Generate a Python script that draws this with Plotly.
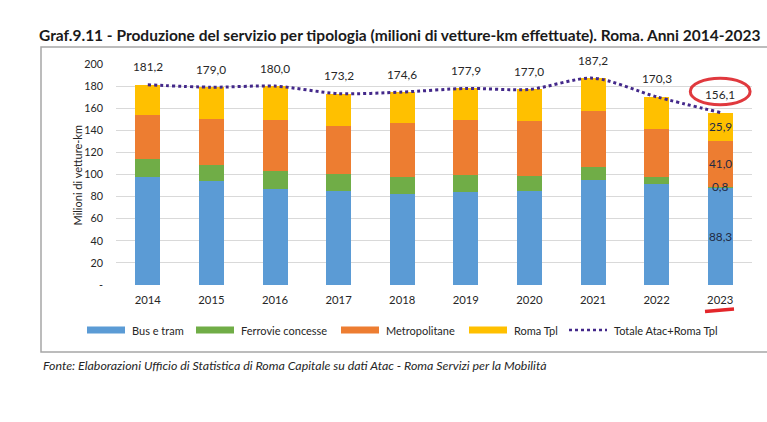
import plotly.graph_objects as go

years = ["2014", "2015", "2016", "2017", "2018", "2019", "2020", "2021", "2022", "2023"]
bus_tram = [98.0, 94.1, 87.2, 84.8, 82.6, 84.5, 85.1, 94.7, 91.4, 88.3]
ferrovie = [16.0, 14.2, 16.0, 15.4, 15.5, 15.0, 13.5, 12.1, 6.0, 0.8]
metropolitane = [39.5, 42.0, 45.8, 43.7, 48.9, 49.8, 49.5, 50.7, 43.8, 41.0]
roma_tpl = [27.7, 28.7, 31.0, 29.3, 27.6, 28.6, 28.9, 29.7, 29.1, 25.9]
totale = [181.2, 179.0, 180.0, 173.2, 174.6, 177.9, 177.0, 187.2, 170.3, 156.1]
y_ticks = [0, 20, 40, 60, 80, 100, 120, 140, 160, 180, 200]
y_ticktext = ["-"] + [str(v) for v in y_ticks[1:]]

C_BUS = "#5B9BD5"
C_FER = "#70AD47"
C_MET = "#ED7D31"
C_TPL = "#FFC000"
C_TOT = "#43288A"
FONT = "Lato"
TXT = "#262626"

W, H = 767, 422
L, R, T, B = 116, 752, 64, 285
YMAX = 200.0
N = len(years)


def xp(px):
    return (px - L) / (R - L)


def yp(py):
    return (B - py) / (B - T)


def fmt(v):
    return f"{v:.1f}".replace(".", ",")


fig = go.Figure()
for name, vals, col in [("Bus e tram", bus_tram, C_BUS), ("Ferrovie concesse", ferrovie, C_FER),
                        ("Metropolitane", metropolitane, C_MET), ("Roma Tpl", roma_tpl, C_TPL)]:
    fig.add_trace(go.Bar(x=years, y=vals, name=name, marker=dict(color=col, line=dict(width=0)),
                         showlegend=False, hoverinfo="y+name"))

fig.add_trace(go.Scatter(x=years, y=totale, name="Totale Atac+Roma Tpl", mode="lines",
                         line=dict(color=C_TOT, width=3, dash="dot", shape="spline", smoothing=0.8),
                         showlegend=False))

ann = []
for j, v in enumerate(totale):
    ann.append(dict(x=j, y=v, xref="x", yref="y", text=fmt(v), showarrow=False, yshift=18,
                    font=dict(family=FONT, size=11.8, color=TXT)))

i = N - 1
b0 = bus_tram[i]
f0 = ferrovie[i]
m0 = metropolitane[i]
t0 = roma_tpl[i]
for val, ypos in [(b0, b0 / 2), (f0, b0 + f0 / 2), (m0, b0 + f0 + m0 / 2), (t0, b0 + f0 + m0 + t0 / 2)]:
    ann.append(dict(x=i, y=ypos, xref="x", yref="y", text=fmt(val), showarrow=False,
                    font=dict(family=FONT, size=11.8, color="#1F2A44")))

ann.append(dict(x=xp(37), y=yp(35), xref="paper", yref="paper", xanchor="left", yanchor="middle",
                text="<b>Graf.9.11 - Produzione del servizio per tipologia (milioni di vetture-km effettuate). Roma. Anni 2014-2023</b>",
                showarrow=False, font=dict(family=FONT, size=15.5, color="#1A1A1A")))
ann.append(dict(x=xp(68), y=yp(124), xref="paper", yref="paper", textangle=-90, text="Milioni di vetture-km",
                showarrow=False, font=dict(family=FONT, size=11, color=TXT)))
ann.append(dict(x=xp(41), y=yp(365), xref="paper", yref="paper", xanchor="left", yanchor="middle",
                text="<i>Fonte: Elaborazioni Ufficio di Statistica di Roma Capitale su dati Atac - Roma Servizi per la Mobilità</i>",
                showarrow=False, font=dict(family=FONT, size=12.4, color=TXT)))

shapes = []
shapes.append(dict(type="rect", xref="paper", yref="paper", x0=xp(41), x1=xp(772), y0=yp(352), y1=yp(47),
                   line=dict(color="#A6A6A6", width=1.5), layer="below"))

legend_items = [("Bus e tram", C_BUS, 87, "bar"), ("Ferrovie concesse", C_FER, 196, "bar"),
                ("Metropolitane", C_MET, 341, "bar"), ("Roma Tpl", C_TPL, 469, "bar"),
                ("Totale Atac+Roma Tpl", C_TOT, 569, "line")]
LY = 330
for label, col, x0, kind in legend_items:
    if kind == "bar":
        shapes.append(dict(type="rect", xref="paper", yref="paper", x0=xp(x0), x1=xp(x0 + 38),
                           y0=yp(LY + 3.5), y1=yp(LY - 3.5), fillcolor=col, line=dict(width=0)))
    else:
        shapes.append(dict(type="line", xref="paper", yref="paper", x0=xp(x0), x1=xp(x0 + 38),
                           y0=yp(LY), y1=yp(LY), line=dict(color=col, width=2.5, dash="dot")))
    ann.append(dict(x=xp(x0 + 43), y=yp(LY), xref="paper", yref="paper", xanchor="left", yanchor="middle",
                    text=label, showarrow=False, font=dict(family=FONT, size=11, color=TXT)))

# hand-drawn style red highlight around the last total
cx = (i + 0.5) / N
half = 0.47 / N
shapes.append(dict(type="circle", xref="paper", yref="paper", x0=cx - half, x1=cx + half,
                   y0=(totale[i] + 7.0) / YMAX, y1=(totale[i] + 31.0) / YMAX,
                   line=dict(color="#E0393E", width=3)))
shapes.append(dict(type="line", xref="paper", yref="paper", x0=xp(705), x1=xp(734), y0=yp(311.5), y1=yp(309),
                   line=dict(color="#E3262A", width=3.5)))

fig.update_layout(
    width=W, height=H,
    margin=dict(l=L, r=W - R, t=T, b=H - B),
    barmode="stack", bargap=0.607,
    plot_bgcolor="white", paper_bgcolor="white",
    font=dict(family=FONT, color=TXT),
    annotations=ann, shapes=shapes, showlegend=False,
    xaxis=dict(type="category", range=[-0.5, N - 0.5], showgrid=False, showline=False, ticks="",
               zeroline=False, tickfont=dict(family=FONT, size=11.3, color=TXT), ticklabelstandoff=7),
    yaxis=dict(range=[0, YMAX], tickvals=y_ticks, ticktext=y_ticktext, showgrid=True, gridcolor="#D9D9D9",
               gridwidth=1, zeroline=False, showline=False, ticks="",
               tickfont=dict(family=FONT, size=10.8, color=TXT), ticklabelstandoff=12),
)

fig.write_html("out.html")
